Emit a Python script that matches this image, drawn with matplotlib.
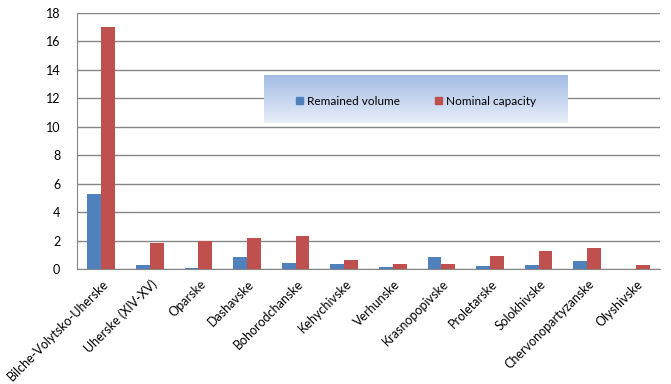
import numpy as np
import matplotlib.pyplot as plt
import matplotlib.transforms as mtransforms
from matplotlib.patches import Patch
from matplotlib.colors import LinearSegmentedColormap

plt.rcParams['font.family'] = ['Lato', 'DejaVu Sans']

# data
fields = ['Bilche-Volytsko-Uherske', 'Uherske (XIV-XV)', 'Oparske', 'Dashavske',
          'Bohorodchanske', 'Kehychivske', 'Verhunske', 'Krasnopopivske',
          'Proletarske', 'Solokhivske', 'Chervonopartyzanske', 'Olyshivske']
remained = [5.3, 0.3, 0.1, 0.85, 0.45, 0.37, 0.15, 0.85, 0.2, 0.28, 0.56, 0.0]
nominal = [17.05, 1.85, 1.95, 2.15, 2.3, 0.65, 0.38, 0.38, 0.93, 1.28, 1.5, 0.29]

blue = '#4F81BD'
red = '#C0504D'

fig = plt.figure(figsize=(6.71, 3.84), dpi=100, facecolor='white')
ax = fig.add_axes([0.1148, 0.2995, 0.8688, 0.6665])

x = np.arange(len(fields))
w = 0.285
ax.bar(x - w / 2, remained, w, color=blue, zorder=3)
ax.bar(x + w / 2, nominal, w, color=red, zorder=3)

ax.set_xlim(-0.5, len(fields) - 0.5)
ax.set_ylim(0, 18)
ax.set_yticks(range(0, 19, 2))
ax.yaxis.grid(True, color='#868686', linewidth=1, zorder=0)
ax.set_axisbelow(True)
for s in ['top', 'right']:
    ax.spines[s].set_visible(False)
ax.spines['bottom'].set_color('#868686')
ax.spines['left'].set_color('#868686')
ax.tick_params(axis='both', length=0, colors='black')
ax.tick_params(axis='y', pad=12, labelsize=9)
ax.set_xticks(x)
ax.set_xticklabels(fields, rotation=45, ha='right', rotation_mode='anchor', fontsize=9)
shift = mtransforms.ScaledTranslation(1 / 100, -4 / 100, fig.dpi_scale_trans)
for lab in ax.get_xticklabels():
    lab.set_transform(lab.get_transform() + shift)

# legend box with gradient
lax = fig.add_axes([264 / 671, 1 - 123 / 384, 304 / 671, 48 / 384])
grad = np.linspace(0, 1, 100).reshape(-1, 1)
cmap = LinearSegmentedColormap.from_list('g', ['#A3BCE4', '#E8EEF9'])
lax.imshow(grad, aspect='auto', cmap=cmap, extent=[0, 1, 0, 1], origin='upper')
lax.set_axis_off()
handles = [Patch(color=blue, label='Remained volume'), Patch(color=red, label='Nominal capacity')]
lax.legend(handles=handles, loc='center', ncol=2, frameon=False, fontsize=8.5,
           handlelength=0.6, handleheight=0.6, handletextpad=0.3, columnspacing=3.0,
           bbox_to_anchor=(0.5, 0.45))

fig.savefig('out.png', dpi=100)
